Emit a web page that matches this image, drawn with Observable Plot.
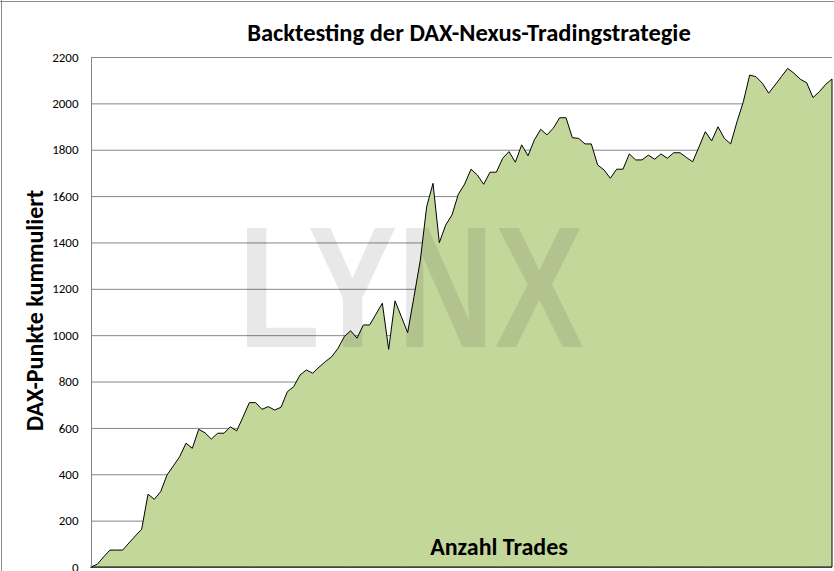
<!DOCTYPE html>
<html><head><meta charset="utf-8">
<script src="https://cdn.jsdelivr.net/npm/d3@7"></script>
<script src="https://cdn.jsdelivr.net/npm/@observablehq/plot@0.6"></script>
<style>
body{margin:0;background:#fff;}
#wrap{position:relative;width:834px;height:571px;overflow:hidden;font-family:Calibri,Carlito,Lato,sans-serif;background:#fff;}
#title{position:absolute;top:18px;left:469px;transform:translateX(-50%);white-space:nowrap;font-weight:bold;font-size:24.5px;line-height:30px;color:#000;z-index:2;}
#chart{position:absolute;top:46px;left:0;z-index:1;}
.bt{position:absolute;left:0;top:1px;width:834px;height:1px;background:#8a8a8a;z-index:3}
.bl{position:absolute;left:1px;top:0;width:1px;height:571px;background:#8a8a8a;z-index:3}
</style></head><body>
<div id="wrap"><div class="bt"></div><div class="bl"></div><div id="title">Backtesting der DAX-Nexus-Tradingstrategie</div><div id="chart"></div></div>
<script>
const values = [
  0, 12, 44, 73, 73, 73, 104, 134, 163, 314,
  292, 325, 397, 436, 476, 534, 512, 594, 579, 552,
  577, 577, 605, 587, 647, 709, 709, 680, 692, 677,
  689, 756, 778, 828, 850, 836, 862, 886, 907, 943,
  994, 1019, 987, 1044, 1044, 1091, 1138, 939, 1148, 1080,
  1011, 1166, 1324, 1554, 1655, 1399, 1475, 1519, 1608, 1652,
  1716, 1691, 1651, 1703, 1703, 1763, 1792, 1746, 1821, 1774,
  1842, 1888, 1864, 1893, 1938, 1938, 1852, 1849, 1825, 1825,
  1734, 1713, 1677, 1716, 1716, 1782, 1756, 1756, 1777, 1759,
  1782, 1763, 1787, 1787, 1767, 1748, 1812, 1878, 1838, 1899,
  1849, 1825, 1921, 2007, 2122, 2115, 2087, 2044, 2079, 2115,
  2151, 2130, 2104, 2089, 2025, 2050, 2082, 2105
];
const yTicks = [0, 200, 400, 600, 800, 1000, 1200, 1400, 1600, 1800, 2000, 2200];
const xLabel = "Anzahl Trades";
const yLabel = "DAX-Punkte kummuliert";
const watermark = "LYNX";

const trades = values.map((v, i) => ({trade: i, points: v}));
const font = "Calibri, Carlito, Lato, sans-serif";

const plot = Plot.plot({
  width: 834, height: 525,
  marginTop: 11, marginBottom: 4, marginLeft: 91, marginRight: 2,
  x: {domain: [0, values.length - 1], axis: null},
  y: {domain: [0, 2200], ticks: yTicks, tickSize: 0, tickPadding: 13, label: null, tickFormat: d => String(d)},
  style: {fontFamily: font, fontSize: "13px", background: "white", color: "#000"},
  marks: [
    Plot.gridY(yTicks, {stroke: "#868686", strokeOpacity: 1, strokeWidth: 1}),
    Plot.areaY(trades, {x: "trade", y: "points", fill: "#c4d79b", stroke: "#000", strokeWidth: 1}),
    Plot.text([watermark], {text: d => d, frameAnchor: "middle", dx: -51, dy: -21, fontSize: 173, fontWeight: "bold", fontFamily: "Liberation Sans, Arial, sans-serif", fill: "#000", fillOpacity: 0.09}),
    Plot.ruleX([0], {stroke: "#868686"}),
    Plot.text([xLabel], {text: d => d, frameAnchor: "bottom", lineAnchor: "middle", textAnchor: "middle", dx: 37, dy: -20, fontSize: 24, fontWeight: "bold", fontFamily: font, fill: "#000"}),
    Plot.text([yLabel], {text: d => d, frameAnchor: "left", textAnchor: "middle", lineAnchor: "middle", rotate: -90, dx: -56, dy: -2, fontSize: 24, fontWeight: "bold", fontFamily: font, fill: "#000"})
  ]
});
plot.querySelectorAll("text").forEach(t => {
  if (t.textContent === watermark) {
    t.setAttribute("textLength", 346);
    t.setAttribute("lengthAdjust", "spacingAndGlyphs");
  }
});
document.getElementById("chart").appendChild(plot);
</script>
</body></html>
